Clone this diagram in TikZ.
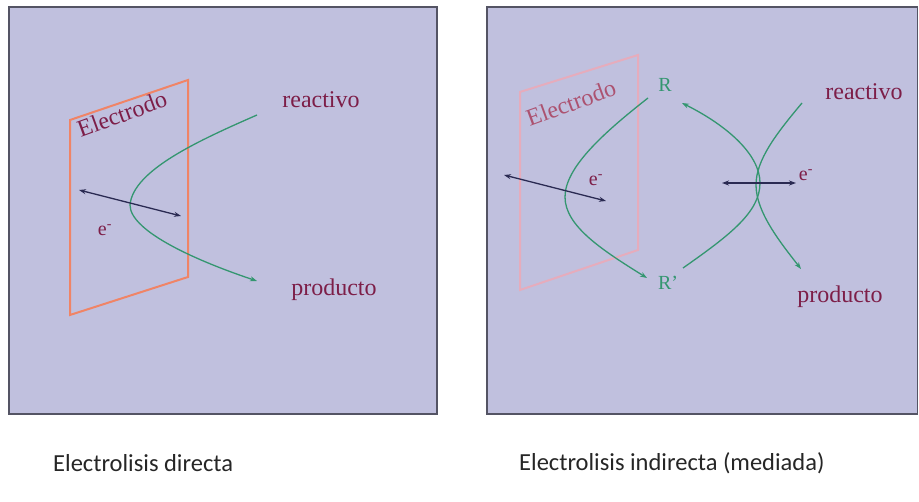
\documentclass[tikz,border=0pt]{standalone}
\usepackage{fontspec}
\setmainfont{Liberation Serif}
\newfontfamily\capfont{Carlito}
\usetikzlibrary{arrows.meta}
\definecolor{bgpanel}{RGB}{192,192,222}
\definecolor{panelborder}{RGB}{84,84,100}
\definecolor{crim}{RGB}{125,30,72}
\definecolor{grn}{RGB}{52,150,112}
\definecolor{elec}{RGB}{240,132,102}
\definecolor{elecfaint}{RGB}{230,172,188}
\definecolor{elecfainttext}{RGB}{172,82,112}
\definecolor{navy}{RGB}{42,42,82}
\begin{document}
\begin{tikzpicture}[x=1pt,y=-1pt,
  panel/.style={fill=bgpanel,draw=panelborder,line width=1.4pt},
  lbl/.style={text=crim,font=\fontsize{24}{26}\selectfont,inner sep=0pt},
  rlbl/.style={text=grn,font=\fontsize{20}{22}\selectfont,inner sep=0pt},
  elbl/.style={text=crim,font=\fontsize{20}{22}\selectfont,inner sep=0pt},
  caption/.style={text=black!85,font=\capfont\fontsize{24.5}{26}\selectfont,inner sep=0pt,anchor=west},
  flow/.style={draw=grn,line width=1.3pt,-{Stealth[length=7pt,width=5pt]}},
  plain/.style={draw=grn,line width=1.3pt},
  etrans/.style={draw=navy,line width=1.3pt,{Stealth[length=7pt,width=5pt]}-{Stealth[length=7pt,width=5pt]}},
  electrode/.style={draw=elec,line width=2pt,line join=miter},
  electrodefaint/.style={draw=elecfaint,line width=2pt,line join=miter}
]
\useasboundingbox (0,0) rectangle (919,502);
% panels
\draw[panel] (9,7) rectangle (437,414);
\draw[panel] (487,7) rectangle (917.5,414);

% ---------- left panel: direct electrolysis ----------
\draw[electrode] (70,120) -- (188,80) -- (188,277) -- (70,315) -- cycle;
\node[lbl,rotate=20] (el1) at (122,114) {Electrodo};
\node[lbl] (re1) at (321,100) {reactivo};
\node[lbl] (pr1) at (334,290) {producto};
\node[elbl] (e1) at (105,230) {e\textsuperscript{-}};
\coordinate (s1) at (257,115);
\coordinate (v1) at (130,205);
\coordinate (t1) at (257,281);
\draw[plain] (s1) .. controls (200,140) and (133,170) .. (v1);
\draw[flow] (v1) .. controls (130,232) and (200,262) .. (t1);
\coordinate (a1) at (79,190);
\coordinate (b1) at (181,216);
\draw[etrans] (a1) -- (b1);

% ---------- right panel: mediated electrolysis ----------
\draw[electrodefaint] (520,92) -- (638,55) -- (638,250) -- (520,290) -- cycle;
\node[lbl,text=elecfainttext,rotate=20] (el2) at (571,103) {Electrodo};
\node[rlbl] (R) at (665,85) {R};
\node[rlbl] (Rp) at (668,283) {R'};
\node[lbl] (re2) at (864,92) {reactivo};
\node[lbl] (pr2) at (840,297) {producto};
\node[elbl] (e2) at (596,180) {e\textsuperscript{-}};
\node[elbl] (e3) at (806,175) {e\textsuperscript{-}};
% mediator reduced at the electrode
\coordinate (sA) at (648,98);
\coordinate (vA) at (565,197);
\coordinate (tA) at (647,278);
\draw[plain] (sA) .. controls (602,134) and (565,168) .. (vA);
\draw[flow] (vA) .. controls (565,226) and (602,250) .. (tA);
% mediator regenerated
\coordinate (sB) at (683,268);
\coordinate (vB) at (760,183);
\coordinate (tB) at (682,103);
\draw[plain] (sB) .. controls (730,235) and (760,212) .. (vB);
\draw[flow] (vB) .. controls (760,155) and (728,126) .. (tB);
% reactant to product
\coordinate (sC) at (802,103);
\coordinate (vC) at (756,185);
\coordinate (tC) at (801,269);
\draw[plain] (sC) .. controls (776,134) and (756,160) .. (vC);
\draw[flow] (vC) .. controls (756,212) and (780,242) .. (tC);
% electron transfers
\coordinate (a2) at (504,175);
\coordinate (b2) at (606,201);
\draw[etrans] (a2) -- (b2);
\coordinate (a3) at (722,183);
\coordinate (b3) at (796,183);
\draw[etrans] (a3) -- (b3);

% captions
\node[caption] (c1) at (53,463) {Electrolisis directa};
\node[caption] (c2) at (519,463) {Electrolisis indirecta (mediada)};
\end{tikzpicture}
\end{document}
